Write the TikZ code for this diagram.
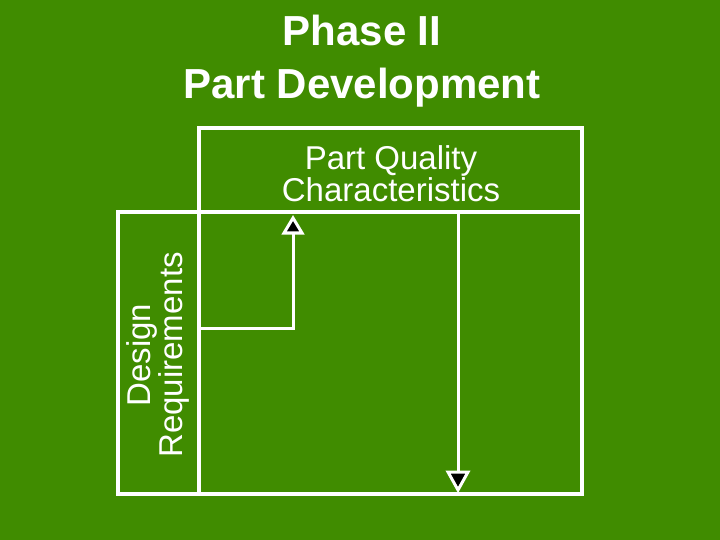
\documentclass[tikz,border=0pt]{standalone}
\usepackage{fontspec}
\setmainfont{Liberation Sans}
\begin{document}
\begin{tikzpicture}[x=1pt,y=-1pt,
  wl/.style={draw=white,line width=4pt},
  tri/.style={draw=white,fill=black,line width=3pt,line join=miter}]
\fill[fill={rgb,255:red,64;green,140;blue,0}] (0,0) rectangle (720,540);
\useasboundingbox (0,0) rectangle (720,540);
\node[white,font=\bfseries\fontsize{42}{53}\selectfont,align=center] (title) at (362,61) {Phase II\\Part Development};
\draw[wl] (199,128) rectangle (582,212);
\draw[wl] (199,212) rectangle (582,494);
\draw[wl] (118,212) rectangle (199,494);
\node[white,font=\fontsize{33}{32}\selectfont,align=center,inner sep=0] (pqc) at (391,174) {Part Quality\\Characteristics};
\node[white,font=\fontsize{33}{32}\selectfont,align=center,rotate=90,inner sep=0] (dr) at (158,355) {Design\\Requirements};
\coordinate (a0) at (199,328);
\coordinate (a1) at (293,328);
\coordinate (a2) at (293,232);
\draw[white,line width=3pt] (a0) -- (a1) -- (a2);
\draw[tri] (293,218) -- (302,233) -- (284,233) -- cycle;
\coordinate (b0) at (458,214);
\coordinate (b1) at (458,472);
\draw[white,line width=3pt] (b0) -- (b1);
\draw[tri] (458,490) -- (448,472) -- (468,472) -- cycle;
\end{tikzpicture}
\end{document}
